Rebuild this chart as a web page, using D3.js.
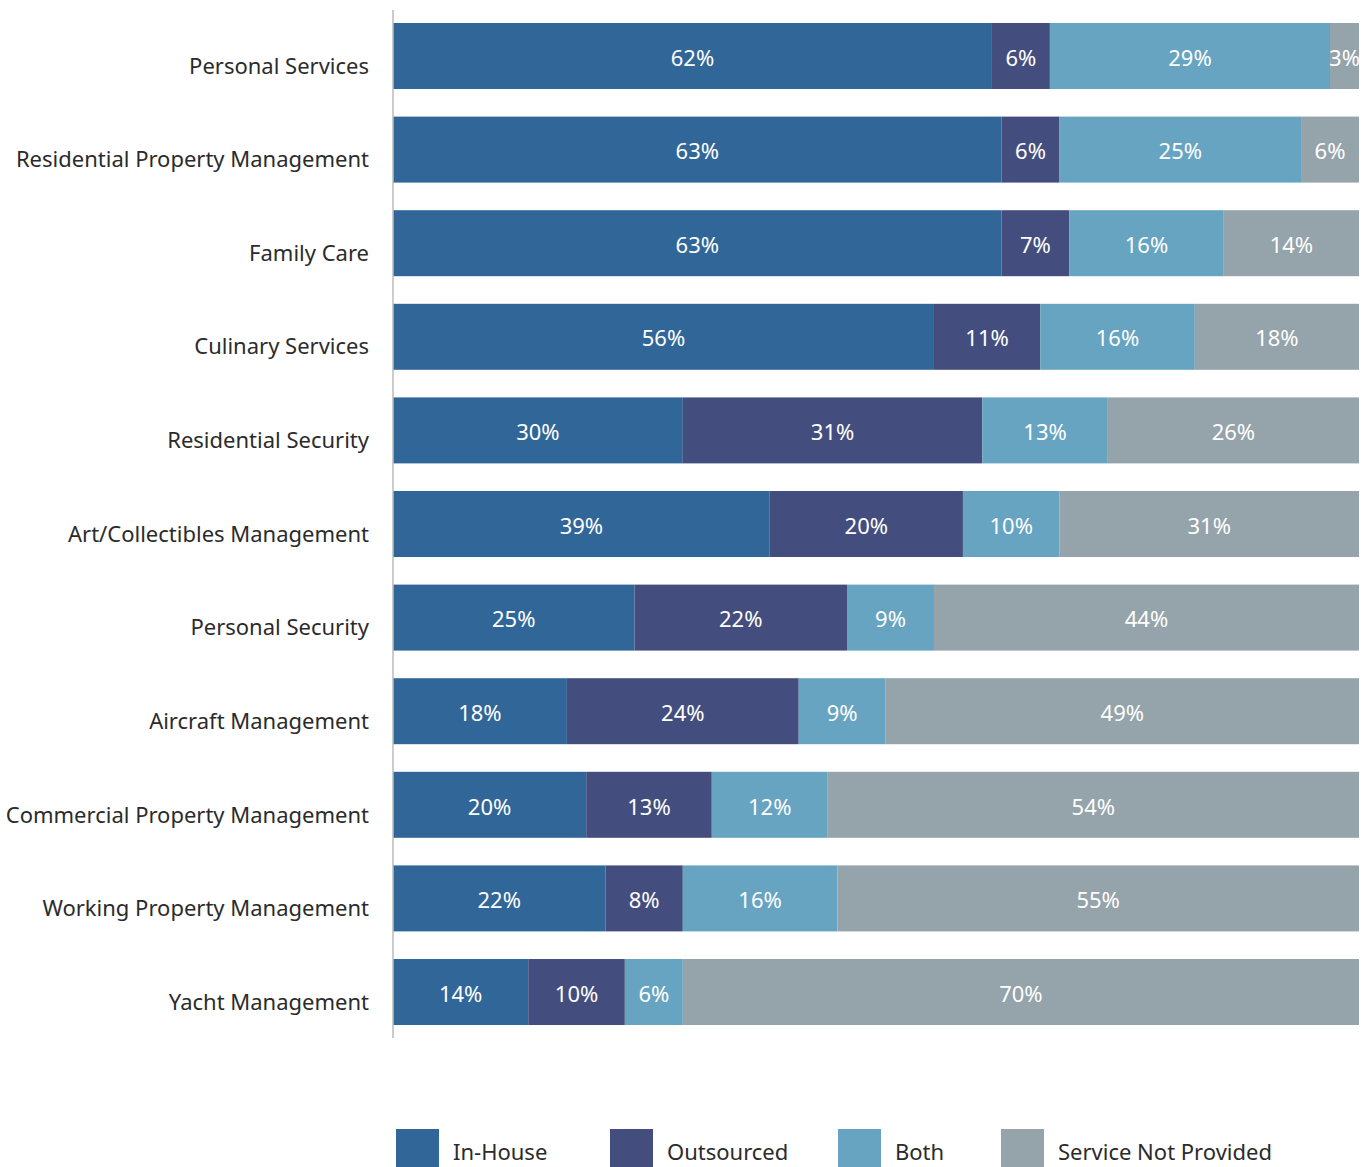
<!DOCTYPE html>
<html>
<head>
<meta charset="utf-8">
<script src="https://cdn.jsdelivr.net/npm/d3@7"></script>
<style>
  body { margin: 0; background: #fff; }
  svg { display: block; font-family: "Noto Sans", "Open Sans", sans-serif; }
</style>
</head>
<body>
<div id="chart"></div>
<script>
var svgWidth = 1368;
var svgHeight = 1167;

// categories, top to bottom
var categories = [
  "Personal Services",
  "Residential Property Management",
  "Family Care",
  "Culinary Services",
  "Residential Security",
  "Art/Collectibles Management",
  "Personal Security",
  "Aircraft Management",
  "Commercial Property Management",
  "Working Property Management",
  "Yacht Management"
];

// series values (%)
var inHouse     = [62, 63, 63, 56, 30, 39, 25, 18, 20, 22, 14];
var outsourced  = [6, 6, 7, 11, 31, 20, 22, 24, 13, 8, 10];
var both        = [29, 25, 16, 16, 13, 10, 9, 9, 12, 16, 6];
var notProvided = [3, 6, 14, 18, 26, 31, 44, 49, 54, 55, 70];

var seriesNames = ["In-House", "Outsourced", "Both", "Service Not Provided"];
var seriesKeys = ["inHouse", "outsourced", "both", "notProvided"];
var colors = ["#316699", "#444e7e", "#66a4c1", "#95a3aa"];

var rows = categories.map(function(c, i) {
  return {
    category: c,
    inHouse: inHouse[i],
    outsourced: outsourced[i],
    both: both[i],
    notProvided: notProvided[i]
  };
});

var margin = { left: 393, right: 9, top: 23, bottom: 142 };

var svg = d3.select("#chart")
  .append("svg")
  .attr("width", svgWidth)
  .attr("height", svgHeight);

// rounded values can add up to 99 or 101, so clamp at the right edge
var x = d3.scaleLinear()
  .domain([0, 100])
  .range([margin.left, svgWidth - margin.right])
  .clamp(true);

var y = d3.scaleBand()
  .domain(categories)
  .range([margin.top, svgHeight - margin.bottom])
  .paddingInner(0.295)
  .paddingOuter(0);

var color = d3.scaleOrdinal().domain(seriesKeys).range(colors);

var stacked = d3.stack()
  .keys(seriesKeys)(rows);

// last segment is the remainder, always runs to 100%
function segEnd(d, key) {
  return key === "notProvided" ? Math.max(d[1], 100) : d[1];
}

var layers = svg.append("g")
  .selectAll("g")
  .data(stacked)
  .enter()
  .append("g")
  .attr("fill", d => color(d.key));

layers.selectAll("rect")
  .data(layer => layer.map(d => ({ d: d, key: layer.key })))
  .enter()
  .append("rect")
  .attr("x", o => x(o.d[0]))
  .attr("y", o => y(o.d.data.category))
  .attr("width", o => x(segEnd(o.d, o.key)) - x(o.d[0]))
  .attr("height", y.bandwidth());

// value labels inside segments
layers.selectAll("text")
  .data(layer => layer.map(d => ({ d: d, key: layer.key })))
  .enter()
  .append("text")
  .attr("x", o => (x(o.d[0]) + x(segEnd(o.d, o.key))) / 2)
  .attr("y", o => y(o.d.data.category) + y.bandwidth() / 2 + 2)
  .attr("dy", "0.35em")
  .attr("text-anchor", "middle")
  .attr("fill", "#fff")
  .attr("font-size", 22)
  .text(o => o.d.data[o.key] + "%");

// y axis line
svg.append("line")
  .attr("x1", margin.left)
  .attr("x2", margin.left)
  .attr("y1", 10)
  .attr("y2", 1038)
  .attr("stroke", "#bbbbbb")
  .attr("stroke-width", 1.5);

// category labels
svg.append("g")
  .selectAll("text")
  .data(categories)
  .enter()
  .append("text")
  .attr("x", 369)
  .attr("y", d => y(d) + y.bandwidth() / 2 + 10)
  .attr("dy", "0.35em")
  .attr("text-anchor", "end")
  .attr("fill", "#2b2b2b")
  .attr("font-size", 22)
  .text(d => d);

// legend
var legendX = [396, 610, 838, 1001];
var legend = svg.append("g")
  .selectAll("g")
  .data(seriesNames)
  .enter()
  .append("g")
  .attr("transform", (d, i) => `translate(${legendX[i]}, 1129)`);

legend.append("rect")
  .attr("width", 43)
  .attr("height", 40)
  .attr("fill", (d, i) => colors[i]);

legend.append("text")
  .attr("x", 57)
  .attr("y", 23)
  .attr("dy", "0.35em")
  .attr("fill", "#2b2b2b")
  .attr("font-size", 22)
  .text(d => d);
</script>
</body>
</html>
